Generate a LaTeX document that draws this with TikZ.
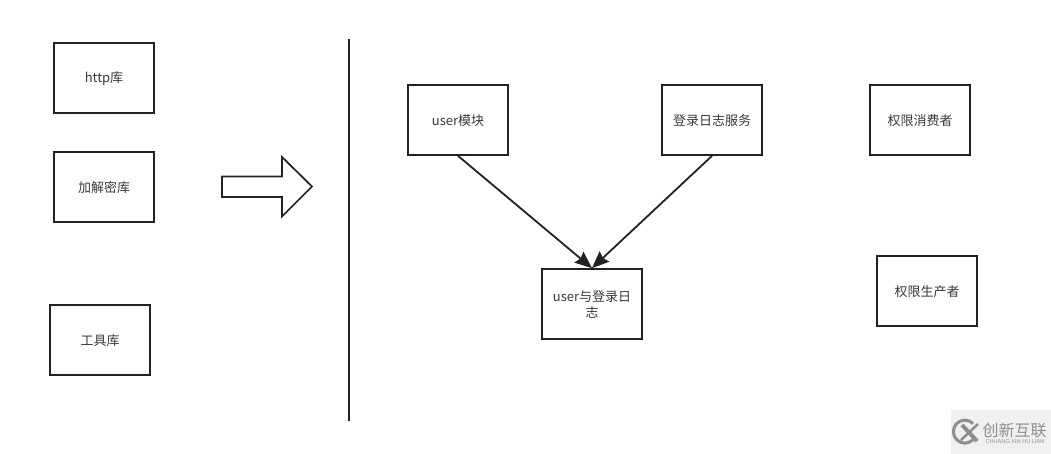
\documentclass[tikz,border=0pt]{standalone}
\usepackage{fontspec}
\setmainfont{Noto Sans CJK SC}
\newfontfamily\latinlogo{Liberation Sans}
\usetikzlibrary{arrows.meta}
\definecolor{ink}{HTML}{222222}
\definecolor{labelc}{HTML}{3A3A3A}
\definecolor{wmbg}{HTML}{F0F0F0}
\definecolor{wmfg}{HTML}{8E8E8E}
\newcommand{\tx}[1]{\raisebox{-0.7pt}[\height][\depth]{#1}}
\tikzset{
  box/.style={draw=ink,line width=1.7pt,minimum width=100pt,minimum height=70pt,inner sep=0pt,
    text width=92pt,align=center,font=\fontsize{13pt}{17pt}\selectfont,text=labelc,fill=white},
  link/.style={draw=ink,line width=1.8pt,-{Stealth[length=17pt,width=14pt,inset=2pt]}},
  rule/.style={draw=ink,line width=1.7pt},
  bigarrow/.style={draw=ink,line width=1.7pt,line join=miter,fill=white},
}
\begin{document}
\begin{tikzpicture}[x=1pt,y=-1pt]
\useasboundingbox (0,0) rectangle (1051,454);
\fill[white] (0,0) rectangle (1051,454);
% boxes
\node[box] (http) at (104,78) {\tx{http库}};
\node[box] (crypt) at (104,187) {\tx{加解密库}};
\node[box] (tool) at (100,340) {\tx{工具库}};
\node[box] (user) at (458,120) {\tx{user模块}};
\node[box] (login) at (712,120) {\tx{登录日志服务}};
\node[box] (cons) at (920,120) {\tx{权限消费者}};
\node[box] (prod) at (927,291) {\tx{权限生产者}};
\node[box] (both) at (592,304) {\tx{user与登录日}\\[-0.5pt]\tx{志}};
% connectors
\draw[link] (user.south) -- (both.north);
\draw[link] (login.south) -- (both.north);
% divider
\coordinate (divtop) at (349,39.5);
\coordinate (divbot) at (349,420.5);
\draw[rule] (divtop) -- (divbot);
% block arrow
\draw[bigarrow] (222,176.5) -- (282,176.5) -- (282,157) -- (312,186.5) -- (282,216.5) -- (282,197) -- (222,197) -- cycle;
% watermark
\fill[wmbg] (951,410) rectangle (1051,454);
\draw[wmfg,line width=3pt] (973,423.5) arc[start angle=45,end angle=315,radius=11.5pt];
\draw[wmfg,line width=4pt] (962,425) -- (977,441);
\draw[wmfg,line width=2.5pt] (961,440) -- (978,424);
\node[wmfg,font=\fontsize{16pt}{17pt}\selectfont,inner sep=0pt] (wmcn) at (1014.5,430) {创新互联};
\node[wmfg,font=\latinlogo\fontsize{5.6pt}{6pt}\selectfont,inner sep=0pt] (wmen) at (1015,441.5) {CHUANG XIN HU LIAN};
\end{tikzpicture}
\end{document}
